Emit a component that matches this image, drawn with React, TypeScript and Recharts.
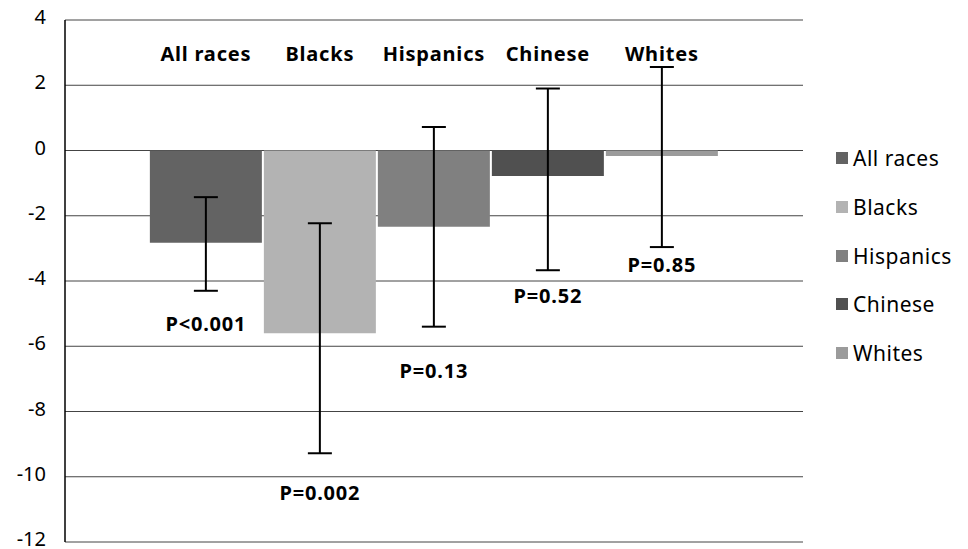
import React from 'react';
import { BarChart, Bar, XAxis, YAxis, CartesianGrid, ErrorBar, LabelList, Legend } from 'recharts';

const groups = ['All races', 'Blacks', 'Hispanics', 'Chinese', 'Whites'];
const seriesKeys = ['allRaces', 'blacks', 'hispanics', 'chinese', 'whites'];
const means = [-2.83, -5.6, -2.34, -0.78, -0.17];
const ciLow = [-4.3, -9.28, -5.4, -3.67, -2.96];
const ciHigh = [-1.43, -2.23, 0.72, 1.9, 2.56];
const pValues = ['P<0.001', 'P=0.002', 'P=0.13', 'P=0.52', 'P=0.85'];
const pLabelAt = [-5.29, -10.47, -6.73, -4.43, -3.48];
const nameLabelAt = 2.98;
const yTicks = [-12, -10, -8, -6, -4, -2, 0, 2, 4];
const colors = ['#636363', '#b3b3b3', '#808080', '#505050', '#9b9b9b'];

const FONT = '"Noto Sans", "Open Sans", sans-serif';

const row: Record<string, any> = { name: 'group' };
seriesKeys.forEach((k, i) => {
  row[k] = means[i];
  row[k + 'Err'] = [means[i] - ciLow[i], ciHigh[i] - means[i]];
});
const data = [row];

const makeLabel = (text: string, at: number) => (props: any) => {
  const vb = props.viewBox && props.viewBox.width != null ? props.viewBox : props;
  const x = Number(vb.x);
  const y = Number(vb.y);
  const w = Number(vb.width);
  const h = Number(vb.height);
  const v = Number(props.value);
  const top = Math.min(y, y + h);
  const bot = Math.max(y, y + h);
  const zero = v < 0 ? top : bot;
  const ppu = (bot - top) / Math.abs(v);
  const ty = zero - at * ppu;
  return (
    <text
      x={x + w / 2}
      y={ty}
      textAnchor="middle"
      dominantBaseline="central"
      fontFamily={FONT}
      fontWeight="bold"
      fontSize={20}
      letterSpacing={0.8}
      fill="#000"
    >
      {text}
    </text>
  );
};

const renderLegend = () => (
  <div style={{ width: 133, fontFamily: FONT, fontSize: 21, letterSpacing: 0.5, color: '#000' }}>
    {groups.map((g, i) => (
      <div key={g} style={{ display: 'flex', alignItems: 'center', height: 48.7 }}>
        <span
          style={{ display: 'inline-block', width: 12, height: 12, background: colors[i], marginRight: 5, flex: 'none' }}
        />
        <span style={{ whiteSpace: 'nowrap' }}>{g}</span>
      </div>
    ))}
  </div>
);

export default function App() {
  return (
    <div style={{ position: 'absolute', left: 0, top: 0, background: '#fff' }}>
      <BarChart
        width={968}
        height={549}
        data={data}
        margin={{ top: 20, right: 32, bottom: 7, left: 0 }}
        barCategoryGap="11.5%"
        barGap={2}
      >
        <CartesianGrid vertical={false} stroke="#444" strokeWidth={1} />
        <XAxis dataKey="name" hide />
        <YAxis
          width={65}
          domain={[-12, 4]}
          ticks={yTicks}
          interval={0}
          tickLine={false}
          axisLine={{ stroke: '#000', strokeWidth: 1.5 }}
          tick={{ fill: '#000', fontSize: 20, fontFamily: FONT, dy: -3 }}
          tickMargin={13}
          allowDataOverflow
        />
        <Legend
          layout="vertical"
          align="right"
          verticalAlign="top"
          wrapperStyle={{ left: 836, top: 134, width: 133 }}
          content={renderLegend}
        />
        {seriesKeys.map((k, i) => (
          <Bar key={k} dataKey={k} name={groups[i]} fill={colors[i]} isAnimationActive={false}>
            <ErrorBar dataKey={k + 'Err'} width={12} stroke="#000" strokeWidth={2} direction="y" />
            <LabelList dataKey={k} content={makeLabel(groups[i], nameLabelAt)} />
            <LabelList dataKey={k} content={makeLabel(pValues[i], pLabelAt[i])} />
          </Bar>
        ))}
      </BarChart>
    </div>
  );
}
